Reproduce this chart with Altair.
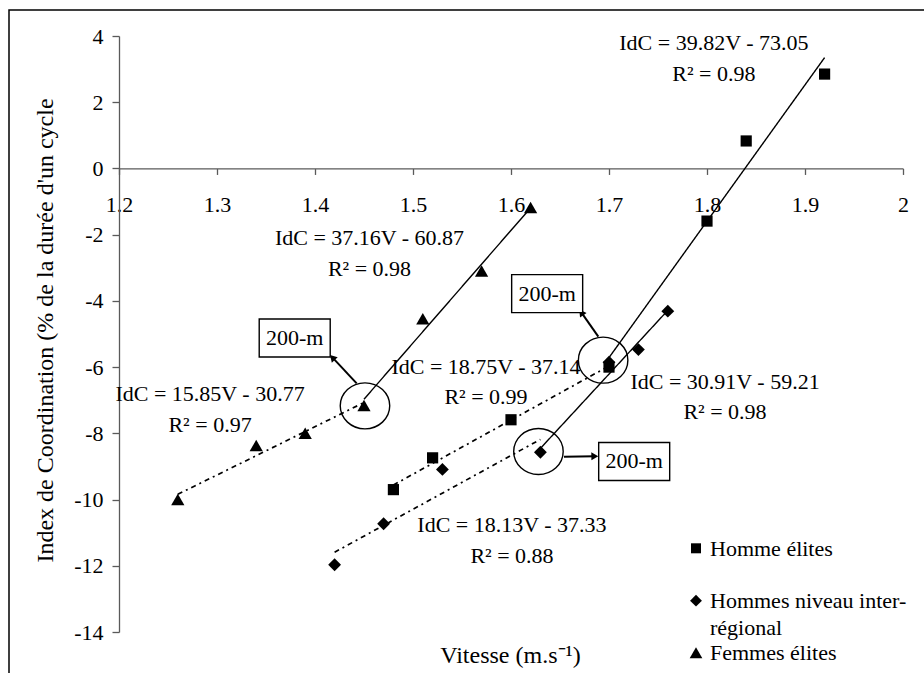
import math

import altair as alt
import pandas as pd

# --- Vitesse de nage (m.s-1) et index de coordination (%) par groupe ---
groupes = ["Homme élites", "Hommes niveau inter-régional", "Femmes élites"]

vitesse_hommes_elites = [1.48, 1.52, 1.60, 1.70, 1.80, 1.84, 1.92]
idc_hommes_elites = [-9.70, -8.74, -7.59, -6.00, -1.59, 0.83, 2.85]

vitesse_inter = [1.42, 1.47, 1.53, 1.63, 1.70, 1.73, 1.76]
idc_inter = [-11.97, -10.73, -9.09, -8.57, -5.85, -5.47, -4.31]

vitesse_femmes = [1.26, 1.34, 1.39, 1.45, 1.51, 1.57, 1.62]
idc_femmes = [-10.00, -8.37, -8.00, -7.16, -4.54, -3.10, -1.18]

# rank of the 200-m trial: it ends the slow segment and starts the fast one
rang_200m = 3

# regression equations printed beside each segment (groupe, segment)
eq_groupe = ["Homme élites", "Homme élites",
             "Hommes niveau inter-régional", "Hommes niveau inter-régional",
             "Femmes élites", "Femmes élites"]
eq_segment = ["rapide", "lent", "rapide", "lent", "rapide", "lent"]
eq_texte = ["IdC = 39.82V - 73.05", "IdC = 18.75V - 37.14",
            "IdC = 30.91V - 59.21", "IdC = 18.13V - 37.33",
            "IdC = 37.16V - 60.87", "IdC = 15.85V - 30.77"]
r2_texte = ["R² = 0.98", "R² = 0.99", "R² = 0.98", "R² = 0.88",
            "R² = 0.98", "R² = 0.97"]

x_ticks = [1.2, 1.3, 1.4, 1.5, 1.6, 1.7, 1.8, 1.9, 2.0]
y_ticks = [-14, -12, -10, -8, -6, -4, -2, 0, 2, 4]

# --- layout ---
W, H = 784, 596
X_MIN, X_MAX = 1.2, 2.0
Y_MIN, Y_MAX = -14, 4
KX = W / (X_MAX - X_MIN)
KY = H / (Y_MAX - Y_MIN)
FONT = "Liberation Serif"
GREY = "#5a5a5a"
ONE = pd.DataFrame({"_": [0]})

# label anchors (centre of the equation line, in data units)
eq_pos_x = [1.807, 1.5745, 1.8184, 1.601, 1.4556, 1.2929]
eq_pos_y = [3.787, -5.989, -6.442, -10.77, -2.102, -6.814]

# 200-m call-outs: circle centre, box centre, arrow start/end (data units)
cercle_x = [1.451, 1.694, 1.628]
cercle_y = [-7.17, -5.79, -8.55]
boite_x = [1.3793, 1.6369, 1.7257]
boite_y = [-5.12, -3.78, -8.85]
fleche = [((1.4425, -6.49), (1.4153, -5.63)),
          ((1.6891, -5.08), (1.6697, -4.26)),
          ((1.6541, -8.71), (1.6891, -8.69))]

series = [
    ("Femmes élites", vitesse_femmes, idc_femmes, "triangle-up", 175),
    ("Hommes niveau inter-régional", vitesse_inter, idc_inter, "diamond", 165),
    ("Homme élites", vitesse_hommes_elites, idc_hommes_elites, "square", 125),
]

points_rows, seg_rows = [], []
for g, vs, ids, _, _ in series:
    for i, (v, c) in enumerate(zip(vs, ids)):
        points_rows.append({"groupe": g, "vitesse": v, "idc": c})
        if i <= rang_200m:
            seg_rows.append({"groupe": g, "segment": "lent", "vitesse": v, "idc": c})
        if i >= rang_200m:
            seg_rows.append({"groupe": g, "segment": "rapide", "vitesse": v, "idc": c})
points_df = pd.DataFrame(points_rows)
seg_df = pd.DataFrame(seg_rows)

eq_df = pd.DataFrame({"groupe": eq_groupe, "segment": eq_segment,
                      "eq": eq_texte, "r2": r2_texte,
                      "vitesse": eq_pos_x, "idc": eq_pos_y})

cercle_df = pd.DataFrame({"vitesse": cercle_x, "idc": cercle_y})
boite_df = pd.DataFrame({"vitesse": boite_x, "idc": boite_y, "t": ["200-m"] * 3})

# arrows: shaft stops at the arrow-head centre, head rotated along the shaft
fl_rows = []
for (x1, y1), (x2, y2) in fleche:
    dxp, dyp = (x2 - x1) * KX, -(y2 - y1) * KY
    L = math.hypot(dxp, dyp)
    ux, uy = dxp / L, dyp / L
    hx = x2 - 3.5 * ux / KX
    hy = y2 + 3.5 * uy / KY
    ang = math.degrees(math.atan2(ux, -uy)) % 360
    fl_rows.append({"vitesse": x1, "idc": y1, "vitesse2": hx, "idc2": hy, "angle": ang})
fl_df = pd.DataFrame(fl_rows)

x_scale = alt.Scale(domain=[X_MIN, X_MAX], nice=False, zero=False)
y_scale = alt.Scale(domain=[Y_MIN, Y_MAX], nice=False, zero=False)

x_axis = alt.Axis(
    values=x_ticks, labelExpr="'' + datum.value",
    offset=-H * (0 - Y_MIN) / (Y_MAX - Y_MIN),
    grid=False, domainColor=GREY, tickColor=GREY, domainWidth=1.3, tickWidth=1.3,
    tickSize=6, labelFont=FONT, labelFontSize=22, labelColor="black",
    labelPadding=20, labelFlush=False,
    title="Vitesse (m.s⁻¹)", titleFont=FONT, titleFontSize=24,
    titleFontWeight="normal", titleColor="black",
    titleX=391, titleY=486.6, titleAlign="center", titleBaseline="middle",
)
y_axis = alt.Axis(
    values=y_ticks,
    labelExpr="datum.value < 0 ? '-' + abs(datum.value) : '' + datum.value",
    grid=False, domainColor=GREY, tickColor=GREY, domainWidth=1.3, tickWidth=1.3,
    tickSize=7, labelFont=FONT, labelFontSize=22, labelColor="black",
    labelPadding=9, labelFlush=False,
    title="Index de Coordination (% de la durée d'un cycle", titleFont=FONT,
    titleFontSize=24, titleFontWeight="normal", titleColor="black",
    titleX=-74, titleY=294, titleAngle=270, titleAlign="center",
    titleBaseline="middle",
)


def X(field="vitesse"):
    return alt.X(f"{field}:Q", scale=x_scale, axis=x_axis)


def Y(field="idc"):
    return alt.Y(f"{field}:Q", scale=y_scale, axis=y_axis)


layers = []

# outer frame of the figure
layers.append(
    alt.Chart(ONE).mark_rect(filled=False, stroke="black", strokeWidth=1.5).encode(
        x=alt.value(-110), x2=alt.value(840), y=alt.value(-26), y2=alt.value(700)
    )
)

# regression lines: dash-dot below the 200-m speed, solid above it
for seg, dash, sw in [("lent", [5, 4, 2, 4], 1.7), ("rapide", [1, 0], 1.4)]:
    layers.append(
        alt.Chart(seg_df)
        .transform_filter(alt.datum.segment == seg)
        .transform_regression("vitesse", "idc", groupby=["groupe"])
        .mark_line(color="black", strokeWidth=sw, strokeDash=dash)
        .encode(x=X(), y=Y(), detail="groupe:N")
    )

# data points
for g, _, _, shape, size in series:
    layers.append(
        alt.Chart(points_df)
        .transform_filter(alt.datum.groupe == g)
        .mark_point(shape=shape, size=size, filled=True, color="black", opacity=1)
        .encode(x=X(), y=Y())
    )

# 200-m call-outs
ellipse = "M-1,0A1,0.93,0,1,1,1,0A1,0.93,0,1,1,-1,0Z"
layers.append(
    alt.Chart(cercle_df)
    .mark_point(shape=ellipse, size=2450, filled=False, stroke="black",
                strokeWidth=1.4, opacity=1)
    .encode(x=X(), y=Y())
)
layers.append(
    alt.Chart(fl_df).mark_rule(color="black", strokeWidth=2).encode(
        x=X(), y=Y(), x2="vitesse2:Q", y2="idc2:Q"
    )
)
layers.append(
    alt.Chart(fl_df)
    .mark_point(shape="triangle-up", size=64, filled=True, color="black", opacity=1)
    .encode(x=X("vitesse2"), y=Y("idc2"), angle=alt.Angle("angle:Q", scale=None))
)
rect_path = "M-1,-0.535L1,-0.535L1,0.535L-1,0.535Z"
layers.append(
    alt.Chart(boite_df)
    .mark_point(shape=rect_path, size=5041, filled=True, fill="white",
                stroke="black", strokeWidth=1.4, opacity=1)
    .encode(x=X(), y=Y())
)
layers.append(
    alt.Chart(boite_df)
    .mark_text(font=FONT, fontSize=22, color="black", align="center", baseline="middle")
    .encode(x=X(), y=Y(), text="t:N")
)

# regression equations and R²
layers.append(
    alt.Chart(eq_df)
    .mark_text(font=FONT, fontSize=22, color="black", align="center", baseline="middle")
    .encode(x=X(), y=Y(), text="eq:N")
)
layers.append(
    alt.Chart(eq_df)
    .mark_text(font=FONT, fontSize=22, color="black", align="center",
               baseline="middle", dy=30.5)
    .encode(x=X(), y=Y(), text="r2:N")
)

# legend
legende_symboles = [("square", 100, 512.3), ("diamond", 140, 564.7),
                    ("triangle-up", 160, 616.7)]
for shape, size, py in legende_symboles:
    layers.append(
        alt.Chart(ONE)
        .mark_point(shape=shape, size=size, filled=True, color="black", opacity=1)
        .encode(x=alt.value(577), y=alt.value(py))
    )
legende_textes = [("Homme élites", 512.8), ("Hommes niveau inter-", 564.8),
                  ("régional", 591.7), ("Femmes élites", 616.5)]
for txt, py in legende_textes:
    layers.append(
        alt.Chart(ONE)
        .mark_text(text=txt, font=FONT, fontSize=22, color="black",
                   align="left", baseline="middle")
        .encode(x=alt.value(591), y=alt.value(py))
    )

chart = (
    alt.layer(*layers)
    .properties(
        width=W, height=H,
        padding={"left": 119, "top": 36, "right": 21, "bottom": 41},
        autosize=alt.AutoSizeParams(type="none"),
        background="white",
    )
    .configure_view(strokeWidth=0)
)

chart.save("out.html", embed_options={"renderer": "svg", "actions": False})
